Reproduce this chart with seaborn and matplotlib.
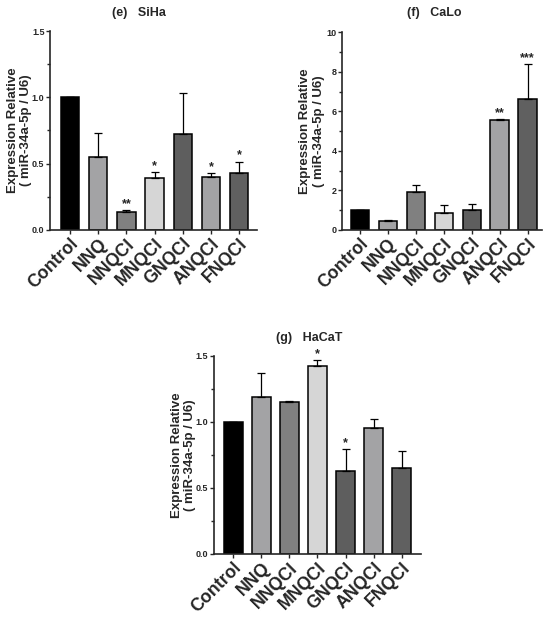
import numpy as np
import pandas as pd
import matplotlib
matplotlib.use("Agg")
import matplotlib.pyplot as plt
from matplotlib.ticker import MultipleLocator, FormatStrFormatter
import seaborn as sns

# ---------------- data ----------------
categories = ["Control", "NNQ", "NNQCl", "MNQCl", "GNQCl", "ANQCl", "FNQCl"]
bar_colors = ["#000000", "#a2a2a6", "#808080", "#d6d6d6", "#5e5e5e", "#a2a2a6", "#606060"]

siha_mean = [1.0, 0.55, 0.135, 0.39, 0.72, 0.40, 0.425]
siha_err = [0.0, 0.18, 0.013, 0.044, 0.31, 0.03, 0.09]
siha_sig = ["", "", "**", "*", "", "*", "*"]

calo_mean = [1.0, 0.44, 1.93, 0.85, 1.0, 5.56, 6.62]
calo_err = [0.0, 0.08, 0.32, 0.38, 0.31, 0.04, 1.75]
calo_sig = ["", "", "", "", "", "**", "***"]

hacat_mean = [1.0, 1.19, 1.15, 1.42, 0.625, 0.95, 0.65]
hacat_err = [0.0, 0.18, 0.005, 0.05, 0.17, 0.07, 0.13]
hacat_sig = ["", "", "", "*", "*", "", ""]

ylabel = "Expression Relative\n( miR-34a-5p / U6)"

sns.set_style("ticks")
plt.rcParams["font.family"] = ["Liberation Sans", "DejaVu Sans"]
plt.rcParams["font.weight"] = "bold"

fig = plt.figure(figsize=(5.5, 6.21), dpi=100)


def draw_panel(rect, means, errs, sigs, ymax, major, minor, fmt, xlim, title, title_xy):
    ax = fig.add_axes(rect)
    df = pd.DataFrame({"cat": categories, "val": means})
    sns.barplot(data=df, x="cat", y="val", hue="cat", palette=bar_colors,
                legend=False, width=0.655, edgecolor="black", linewidth=1.1,
                errorbar=None, ax=ax)
    xs = np.arange(len(categories))
    lower = np.zeros(len(errs))
    ax.errorbar(xs, means, yerr=[lower, errs], fmt="none", ecolor="black",
                elinewidth=0.9, capsize=3, capthick=0.9)
    for x, m, e, s in zip(xs, means, errs, sigs):
        if s:
            ax.annotate(s, (x, m + e), xytext=(0, 0), textcoords="offset points",
                        ha="center", va="bottom", fontsize=9, fontweight="bold")
    ax.set_ylim(0, ymax)
    ax.set_xlim(*xlim)
    ax.yaxis.set_major_locator(MultipleLocator(major))
    ax.yaxis.set_minor_locator(MultipleLocator(minor))
    ax.yaxis.set_major_formatter(FormatStrFormatter(fmt))
    ax.tick_params(axis="y", which="major", labelsize=6.5, length=3, width=1, pad=1)
    ax.tick_params(axis="y", which="minor", length=2, width=1)
    ax.tick_params(axis="x", length=3, width=1, labelsize=12.8, pad=1)
    for lab in ax.get_xticklabels():
        lab.set_rotation(45)
        lab.set_ha("right")
        lab.set_rotation_mode("anchor")
        lab.set_fontweight("bold")
    for lab in ax.get_yticklabels():
        lab.set_fontweight("bold")
    ax.set_xlabel("")
    ax.set_ylabel(ylabel, fontsize=9.5, fontweight="bold")
    ax.yaxis.set_label_coords(-0.085, 0.5)
    for side in ["left", "bottom"]:
        ax.spines[side].set_linewidth(1.2)
    sns.despine(ax=ax)
    fig.text(title_xy[0], title_xy[1], title, ha="center", va="center",
             fontsize=9, fontweight="bold")
    return ax


draw_panel([0.091, 0.630, 0.376, 0.320], siha_mean, siha_err, siha_sig,
           1.5, 0.5, 0.25, "%.1f", (-0.71, 6.63), "(e)   SiHa", (0.253, 0.979))
draw_panel([0.622, 0.630, 0.364, 0.318], calo_mean, calo_err, calo_sig,
           10, 2, 1, "%d", (-0.64, 6.53), "(f)   CaLo", (0.789, 0.979))
draw_panel([0.389, 0.108, 0.376, 0.319], hacat_mean, hacat_err, hacat_sig,
           1.5, 0.5, 0.25, "%.1f", (-0.69, 6.68), "(g)   HaCaT", (0.562, 0.456))

fig.savefig("out.png", dpi=100)
